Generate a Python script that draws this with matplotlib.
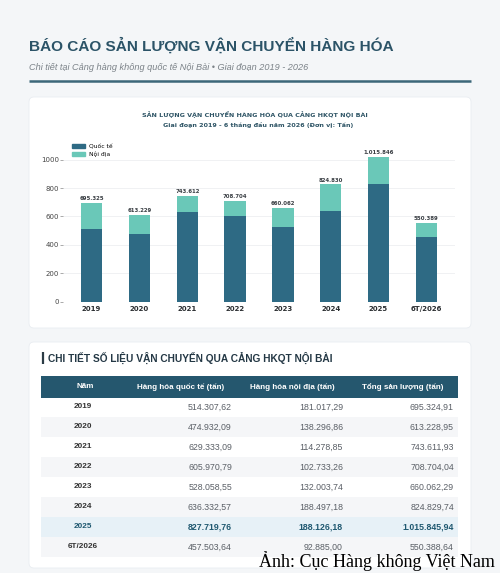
import matplotlib
matplotlib.use("Agg")
import matplotlib.pyplot as plt
from matplotlib.patches import FancyBboxPatch, Rectangle, Patch

W, H = 500, 573
BG, CARD = "#f4f6f8", "#ffffff"
NAVY, DARK, LIGHT = "#2b5367", "#2e6a84", "#6ac8b8"
HEAD, GRAYTXT = "#25576e", "#5a5f66"

years = ["2019", "2020", "2021", "2022", "2023", "2024", "2025", "6T/2026"]
intl = [514307.62, 474932.09, 629333.09, 605970.79, 528058.55, 636332.57, 827719.76, 457503.64]
dom = [181017.29, 138296.86, 114278.85, 102733.26, 132003.74, 188497.18, 188126.18, 92885.00]
total = [695324.91, 613228.95, 743611.93, 708704.04, 660062.29, 824829.74, 1015845.94, 550388.64]
yticks = [0, 200, 400, 600, 800, 1000]
headers = ["Năm", "Hàng hóa quốc tế (tấn)", "Hàng hóa nội địa (tấn)", "Tổng sản lượng (tấn)"]

SANS = ["Liberation Sans", "DejaVu Sans"]
plt.rcParams["font.family"] = SANS


def vn(v, d=0):
    """số kiểu Việt: dấu chấm hàng nghìn, dấu phẩy thập phân"""
    s = f"{v:,.{d}f}"
    return s.replace(",", "#").replace(".", ",").replace("#", ".")


fig = plt.figure(figsize=(W / 100, H / 100), dpi=100)
fig.patch.set_facecolor(BG)

# nền vẽ theo toạ độ pixel
bg = fig.add_axes([0, 0, 1, 1])
bg.set_xlim(0, W)
bg.set_ylim(H, 0)
bg.axis("off")


def card(x0, y0, x1, y1):
    bg.add_patch(FancyBboxPatch((x0, y0), x1 - x0, y1 - y0,
                                boxstyle="round,pad=0,rounding_size=5",
                                fc=CARD, ec="#e9edf1", lw=0.6))


# ---- tiêu đề
bg.text(29, 46, "BÁO CÁO SẢN LƯỢNG VẬN CHUYỂN HÀNG HÓA", fontsize=11.1,
        fontweight="bold", color=NAVY, va="center", ha="left")
bg.text(29, 68, "Chi tiết tại Cảng hàng không quốc tế Nội Bài • Giai đoạn 2019 - 2026",
        fontsize=6.6, style="italic", color="#7b8288", va="center", ha="left")
bg.plot([29, 471], [81, 81], color="#3c6779", lw=1.8, solid_capstyle="butt")

# ---- thẻ biểu đồ
card(29, 97, 471, 328)
bg.text(255, 115, "SẢN LƯỢNG VẬN CHUYỂN HÀNG HÓA QUA CẢNG HKQT NỘI BÀI",
        family="DejaVu Sans", fontsize=4.6, fontweight="bold", color="#2f5566",
        ha="center", va="center")
bg.text(258, 125, "Giai đoạn 2019 - 6 tháng đầu năm 2026 (Đơn vị: Tấn)",
        family="DejaVu Sans", fontsize=4.6, fontweight="bold", color="#2f5566",
        ha="center", va="center")

ax = fig.add_axes([63 / W, 1 - 301.5 / H, 392 / W, 161 / H])
ax.set_facecolor("none")
x = list(range(len(years)))
ik = [v / 1000 for v in intl]
dk = [v / 1000 for v in dom]
ax.bar(x, ik, 0.45, color=DARK, zorder=3, label="Quốc tế")
ax.bar(x, dk, 0.45, bottom=ik, color=LIGHT, zorder=3, label="Nội địa")
for i, t in enumerate(total):
    ax.text(i, t / 1000 + 14, vn(t), ha="center", va="bottom", family="DejaVu Sans",
            fontsize=3.9, fontweight="bold", color="#3a3f44")
ax.set_xlim(-0.6, 7.6)
ax.set_ylim(0, 1135)
ax.set_yticks(yticks)
ax.set_yticklabels([str(v) for v in yticks], family="DejaVu Sans", fontsize=5, color="#444")
ax.set_xticks(x)
ax.set_xticklabels(years, family="DejaVu Sans", fontsize=5, fontweight="bold", color="#2a2d30")
ax.tick_params(axis="y", length=2, width=0.5, color="#888", pad=1)
ax.tick_params(axis="x", length=0, pad=3)
ax.grid(axis="y", color="#eeeff1", lw=0.6, zorder=0)
for s in ax.spines.values():
    s.set_visible(False)
ax.axhline(0, color="#e3e5e8", lw=0.6, zorder=1)
lg = ax.legend(handles=[Patch(color=DARK, label="Quốc tế"), Patch(color=LIGHT, label="Nội địa")],
               loc="upper left", bbox_to_anchor=(0.01, 1.01), prop={"family": "DejaVu Sans", "size": 4.3},
               frameon=False, handlelength=2.2, handleheight=0.6, labelspacing=0.4,
               borderpad=0.4, handletextpad=0.6)

# ---- thẻ bảng
card(29, 342, 471, 568)
bg.plot([43, 43], [352, 364], color="#2b3b45", lw=1.6, solid_capstyle="butt")
bg.text(48, 358, "CHI TIẾT SỐ LIỆU VẬN CHUYỂN QUA CẢNG HKQT NỘI BÀI", fontsize=7.3,
        fontweight="bold", color="#243845", va="center", ha="left")

bg.add_patch(Rectangle((41, 376), 417, 22, fc=HEAD, ec="none"))
col_x = [85, 181, 292, 403]
for cx, h in zip(col_x, headers):
    bg.text(cx, 387, h, fontsize=5.8, fontweight="bold", color="white", ha="center", va="center")

num_right = [232, 343, 454]
for r, yr in enumerate(years):
    cy = 407 + 20 * r
    hi = yr == "2025"
    if hi:
        bg.add_patch(Rectangle((41, cy - 10), 417, 20, fc="#e7f1f7", ec="none"))
    elif r % 2 == 1:
        bg.add_patch(Rectangle((41, cy - 10), 417, 20, fc="#f5f6f8", ec="none"))
    tc = "#1f5870" if hi else GRAYTXT
    bg.text(83, cy, yr, fontsize=5.9, fontweight="bold", color="#1f5870" if hi else "#333",
            ha="center", va="center")
    for rx, v in zip(num_right, (intl[r], dom[r], total[r])):
        bg.text(rx, cy, vn(v, 2), fontsize=6.3, color=tc, ha="right", va="center",
                fontweight="bold" if hi else "normal")

# ---- chú thích ảnh
bg.text(495, 561, "Ảnh: Cục Hàng không Việt Nam", family=["Liberation Serif", "DejaVu Serif"],
        fontsize=13, color="black", ha="right", va="center")

fig.savefig("out.png", dpi=100, facecolor=BG)
